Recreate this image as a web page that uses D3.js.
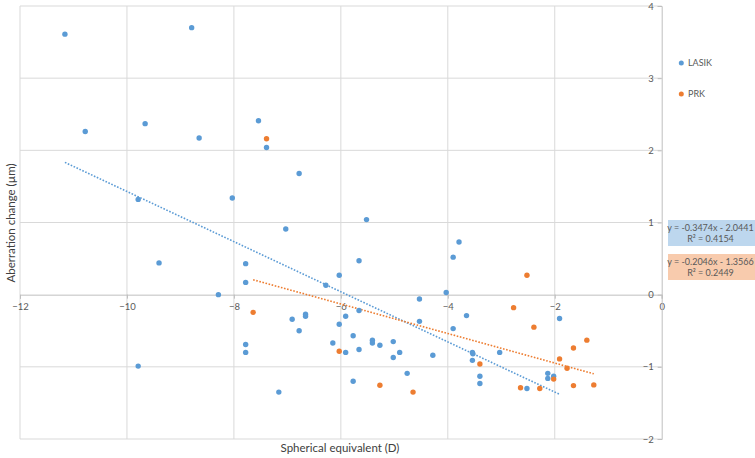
<!DOCTYPE html>
<html>
<head>
<meta charset="utf-8">
<script src="https://cdn.jsdelivr.net/npm/d3@7"></script>
<style>
  body { margin: 0; background: #fff; }
  svg { font-family: Lato, "Open Sans", sans-serif; }
</style>
</head>
<body>
<svg width="755" height="458"></svg>
<script>
// LASIK points (spherical equivalent, aberration change)
const lasikX = [-11.16, -8.79, -10.78, -9.66, -8.65, -7.54, -9.79, -8.03, -7.39, -6.78,
  -5.52, -7.03, -3.79, -9.40, -7.78, -7.78, -8.29, -7.78, -7.78, -9.79,
  -5.66, -6.03, -6.28, -6.91, -6.66, -6.66, -6.78, -5.66, -5.91, -6.03,
  -4.53, -4.03, -3.90, -4.53, -3.90, -3.65, -6.15, -5.77, -5.91, -5.66,
  -5.41, -5.41, -5.27, -5.02, -4.90, -5.02, -4.28, -4.76, -5.77, -7.16,
  -3.54, -3.53, -3.54, -3.40, -3.40, -3.03, -1.91, -2.13, -2.13, -2.02, -2.52];
const lasikY = [3.61, 3.70, 2.26, 2.37, 2.17, 2.41, 1.32, 1.34, 2.04, 1.68,
  1.04, 0.91, 0.73, 0.44, 0.43, 0.17, 0.00, -0.69, -0.80, -0.99,
  0.47, 0.27, 0.13, -0.34, -0.27, -0.30, -0.50, -0.22, -0.30, -0.41,
  -0.06, 0.03, 0.52, -0.37, -0.47, -0.29, -0.67, -0.57, -0.80, -0.76,
  -0.63, -0.67, -0.70, -0.65, -0.80, -0.87, -0.84, -1.09, -1.20, -1.35,
  -0.80, -0.82, -0.91, -1.13, -1.23, -0.80, -0.33, -1.09, -1.16, -1.13, -1.30];

// PRK points
const prkX = [-7.39, -7.64, -6.03, -5.27, -4.65, -3.40, -2.52, -2.77, -2.39, -1.40,
  -1.65, -1.91, -1.77, -2.02, -2.64, -2.28, -1.65, -1.27];
const prkY = [2.16, -0.245, -0.785, -1.256, -1.35, -0.96, 0.27, -0.18, -0.45, -0.63,
  -0.74, -0.89, -1.02, -1.17, -1.29, -1.30, -1.26, -1.25];

// linear trend lines shown on the chart
const seriesNames = ['LASIK', 'PRK'];
const slopes = [-0.3474, -0.2046];
const intercepts = [-2.0441, -1.3566];
const rSquared = ['0.4154', '0.2449'];

const xTicks = [-12, -10, -8, -6, -4, -2, 0];
const yTicks = [-2, -1, 0, 1, 2, 3, 4];

const colors = ['#5b9bd5', '#ed7d31'];
const boxFills = ['#bdd7ee', '#f8cbad'];

const svg = d3.select('svg');
const x = d3.scaleLinear().domain([-12, 0]).range([20, 661.7]);
const y = d3.scaleLinear().domain([-2, 4]).range([439, 6]);

// gridlines
svg.append('g').selectAll('line').data(xTicks.filter(t => t !== 0))
  .enter().append('line')
  .attr('x1', d => x(d)).attr('x2', d => x(d))
  .attr('y1', y(4)).attr('y2', y(-2))
  .attr('stroke', '#d9d9d9').attr('stroke-width', 1);
svg.append('g').selectAll('line').data(yTicks.filter(t => t !== 0))
  .enter().append('line')
  .attr('x1', x(-12)).attr('x2', x(0))
  .attr('y1', d => y(d)).attr('y2', d => y(d))
  .attr('stroke', '#d9d9d9').attr('stroke-width', 1);

// axes crossing at zero
const xAxis = svg.append('g')
  .attr('transform', `translate(0,${y(0)})`)
  .call(d3.axisBottom(x).tickValues(xTicks).tickFormat(d3.format('d')).tickSize(4).tickPadding(5));
const yAxis = svg.append('g')
  .attr('transform', `translate(${x(0)},0)`)
  .call(d3.axisLeft(y).tickValues(yTicks).tickFormat(d3.format('d')).tickSize(4).tickPadding(4));
[xAxis, yAxis].forEach(a => {
  a.select('.domain').attr('stroke', '#bfbfbf');
  a.selectAll('.tick line').attr('stroke', '#bfbfbf');
  a.selectAll('.tick text').attr('fill', '#595959').attr('font-size', 9.5)
    .attr('font-family', 'Lato, sans-serif');
});

// trend lines
const allX = [lasikX, prkX];
seriesNames.forEach((name, i) => {
  const ext = d3.extent(allX[i]);
  svg.append('line')
    .attr('x1', x(ext[0])).attr('y1', y(slopes[i] * ext[0] + intercepts[i]))
    .attr('x2', x(ext[1])).attr('y2', y(slopes[i] * ext[1] + intercepts[i]))
    .attr('stroke', colors[i]).attr('stroke-width', 1.6)
    .attr('stroke-dasharray', '1.6,1.6');
});

// points
function drawPoints(xs, ys, color) {
  svg.append('g').selectAll('circle').data(xs.map((v, i) => [v, ys[i]]))
    .enter().append('circle')
    .attr('cx', d => x(d[0]))
    .attr('cy', d => y(d[1]))
    .attr('r', 2.7)
    .attr('fill', color);
}
drawPoints(lasikX, lasikY, colors[0]);
drawPoints(prkX, prkY, colors[1]);

// axis titles
svg.append('text')
  .attr('x', 340).attr('y', 452)
  .attr('text-anchor', 'middle').attr('font-size', 11.5).attr('fill', '#404040')
  .text('Spherical equivalent  (D)');
svg.append('text')
  .attr('transform', 'translate(15,223) rotate(-90)')
  .attr('text-anchor', 'middle').attr('font-size', 11.5).attr('fill', '#404040')
  .text('Aberration change (µm)');

// legend
seriesNames.forEach((name, i) => {
  const ly = 63 + i * 31;
  svg.append('circle').attr('cx', 681.3).attr('cy', ly).attr('r', 2.5).attr('fill', colors[i]);
  svg.append('text').attr('x', 688).attr('y', ly + 3.2)
    .attr('font-size', 9).attr('fill', '#595959').text(name);
});

// equation boxes
seriesNames.forEach((name, i) => {
  const by = 220 + i * 34;
  svg.append('rect').attr('x', 668).attr('y', by).attr('width', 87).attr('height', 26)
    .attr('fill', boxFills[i]);
  const sign = intercepts[i] < 0 ? '-' : '+';
  svg.append('text').attr('x', 710.5).attr('y', by + 10.5)
    .attr('text-anchor', 'middle').attr('font-size', 9).attr('fill', '#595959')
    .text(`y = ${slopes[i].toFixed(4)}x ${sign} ${Math.abs(intercepts[i]).toFixed(4)}`);
  svg.append('text').attr('x', 710.5).attr('y', by + 21.5)
    .attr('text-anchor', 'middle').attr('font-size', 9).attr('fill', '#595959')
    .text(`R² = ${rSquared[i]}`);
});
</script>
</body>
</html>
